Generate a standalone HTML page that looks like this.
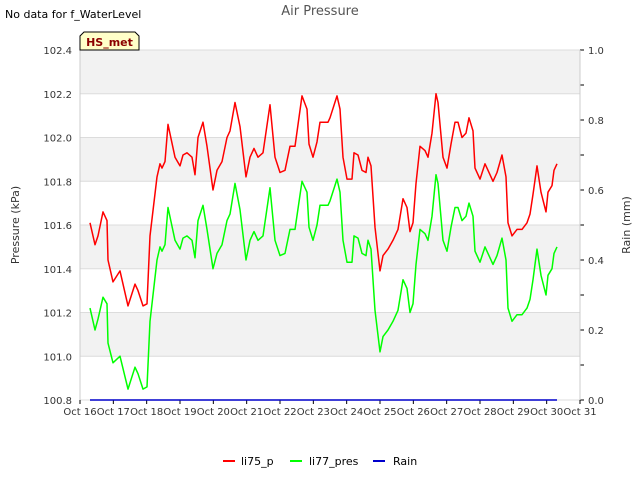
<!DOCTYPE html>
<html><head><meta charset="utf-8"><style>
body{margin:0;background:#fff;font-family:"DejaVu Sans","Liberation Sans",sans-serif;}
svg text{font-family:"DejaVu Sans","Liberation Sans",sans-serif;}
</style></head><body>
<svg id="chart" width="640" height="480" xmlns="http://www.w3.org/2000/svg">
<text x="5" y="18" font-size="11" fill="#000">No data for f_WaterLevel</text>
<text x="320" y="15" font-size="13" fill="#555" text-anchor="middle">Air Pressure</text>
<g id="grid"></g>
<g id="axes"></g>
<g id="series"></g>
<g>
<path d="M80,50 L80,36 L84,32 L135,32 L139,36 L139,50 Z" fill="#ffffc8" stroke="#000" stroke-width="1"/>
<text x="109.5" y="46" font-size="11" font-weight="bold" fill="#8b0000" text-anchor="middle">HS_met</text>
</g>
<text transform="translate(19,225) rotate(-90)" font-size="11" fill="#333" text-anchor="middle">Pressure (kPa)</text>
<text transform="translate(630,225) rotate(-90)" font-size="11" fill="#333" text-anchor="middle">Rain (mm)</text>
<g>
<g><line x1="223" y1="461" x2="235" y2="461" stroke="#ff0000" stroke-width="2"/><text x="241" y="465" font-size="11" fill="#000">li75_p</text></g>
<g><line x1="290" y1="461" x2="302" y2="461" stroke="#00ff00" stroke-width="2"/><text x="309" y="465" font-size="11" fill="#000">li77_pres</text></g>
<g><line x1="373" y1="461" x2="385" y2="461" stroke="#0000cc" stroke-width="2"/><text x="393" y="465" font-size="11" fill="#000">Rain</text></g>
</g>
</svg>
<script>
const days=[0.30,0.45,0.54,0.69,0.81,0.84,0.99,1.20,1.44,1.65,1.74,1.89,2.01,2.10,2.31,2.40,2.46,2.55,2.64,2.85,3.00,3.09,3.21,3.36,3.45,3.54,3.69,3.81,3.99,4.11,4.26,4.41,4.50,4.65,4.80,4.98,5.10,5.22,5.34,5.49,5.70,5.85,6.00,6.15,6.30,6.45,6.66,6.81,6.87,6.99,7.11,7.20,7.44,7.50,7.71,7.80,7.89,8.01,8.16,8.22,8.34,8.46,8.58,8.64,8.73,8.85,9.00,9.09,9.24,9.39,9.54,9.69,9.81,9.90,9.99,10.08,10.20,10.35,10.44,10.56,10.68,10.74,10.89,11.01,11.13,11.25,11.34,11.46,11.58,11.67,11.79,11.85,12.00,12.15,12.24,12.39,12.51,12.66,12.78,12.84,12.96,13.11,13.26,13.41,13.50,13.59,13.71,13.83,13.98,14.04,14.16,14.22,14.31];
const li75=[101.61,101.51,101.55,101.66,101.62,101.44,101.34,101.39,101.23,101.33,101.30,101.23,101.24,101.55,101.82,101.88,101.86,101.89,102.06,101.91,101.87,101.92,101.93,101.91,101.83,102.00,102.07,101.96,101.76,101.85,101.89,102.00,102.03,102.16,102.05,101.82,101.91,101.95,101.91,101.93,102.15,101.91,101.84,101.85,101.96,101.96,102.19,102.13,101.97,101.91,101.98,102.07,102.07,102.09,102.19,102.13,101.91,101.81,101.81,101.93,101.92,101.85,101.84,101.91,101.87,101.59,101.39,101.46,101.49,101.53,101.58,101.72,101.68,101.57,101.61,101.79,101.96,101.94,101.91,102.02,102.20,102.16,101.91,101.86,101.97,102.07,102.07,102.00,102.02,102.09,102.03,101.86,101.81,101.88,101.85,101.80,101.84,101.92,101.82,101.61,101.55,101.58,101.58,101.61,101.65,101.74,101.87,101.75,101.66,101.75,101.78,101.85,101.88];
const li77=[101.22,101.12,101.17,101.27,101.24,101.06,100.97,101.00,100.85,100.95,100.92,100.85,100.86,101.16,101.44,101.50,101.48,101.51,101.68,101.53,101.49,101.54,101.55,101.53,101.45,101.62,101.69,101.58,101.40,101.47,101.51,101.62,101.65,101.79,101.67,101.44,101.53,101.57,101.53,101.55,101.77,101.53,101.46,101.47,101.58,101.58,101.80,101.75,101.59,101.53,101.60,101.69,101.69,101.71,101.81,101.75,101.53,101.43,101.43,101.55,101.54,101.47,101.46,101.53,101.49,101.21,101.02,101.09,101.12,101.16,101.21,101.35,101.31,101.20,101.24,101.42,101.58,101.56,101.53,101.64,101.83,101.79,101.53,101.48,101.59,101.68,101.68,101.62,101.64,101.70,101.64,101.48,101.43,101.50,101.47,101.42,101.46,101.54,101.44,101.22,101.16,101.19,101.19,101.22,101.26,101.35,101.49,101.37,101.28,101.37,101.40,101.47,101.50];
const rainDays=[0.30,14.31];
const rain=[0,0];
const yTicks=[100.8,101.0,101.2,101.4,101.6,101.8,102.0,102.2,102.4];
const y2Ticks=[0.0,0.2,0.4,0.6,0.8,1.0];
const xLabels=["Oct 16","Oct 17","Oct 18","Oct 19","Oct 20","Oct 21","Oct 22","Oct 23","Oct 24","Oct 25","Oct 26","Oct 27","Oct 28","Oct 29","Oct 30","Oct 31"];
const L=80,R=580,T=50,B=400;
const xs=d=>L+d*(R-L)/15;
const ys=v=>B-(v-100.8)*(B-T)/1.6;
const y2s=v=>B-v*(B-T)/1.0;
const NS="http://www.w3.org/2000/svg";
function mk(tag,attrs,parent){const e=document.createElementNS(NS,tag);for(const k in attrs)e.setAttribute(k,attrs[k]);parent.appendChild(e);return e;}
const grid=document.getElementById('grid'),axes=document.getElementById('axes'),series=document.getElementById('series');
const bg=mk('rect',{x:L,y:T,width:R-L,height:B-T,fill:'#fff'},grid);


for(let i=0;i<yTicks.length-1;i++){
  if(i%2===1){const b=mk('rect',{x:L,y:ys(yTicks[i+1]),width:R-L,height:ys(yTicks[i])-ys(yTicks[i+1]),fill:'#f2f2f2'},grid);
  
  }
}
yTicks.forEach(v=>{
  const g=mk('line',{x1:L,x2:R,y1:ys(v),y2:ys(v),stroke:'#dcdcdc','stroke-width':1},grid);
  
  
  const t=mk('text',{x:L-8,y:ys(v)+4,'font-size':10,fill:'#333','text-anchor':'end'},axes);
  t.textContent=v.toFixed(1);
  
  
});
for(let i=0;i<=10;i++){
  const v=i/10;
  mk('line',{x1:R,x2:R+4,y1:y2s(v),y2:y2s(v),stroke:'#000','stroke-width':1},axes);
}
y2Ticks.forEach(v=>{
  const t=mk('text',{x:R+8,y:y2s(v)+4,'font-size':10,fill:'#333'},axes);
  t.textContent=v.toFixed(1);
  
  
});
xLabels.forEach((s,i)=>{
  mk('line',{x1:xs(i),x2:xs(i),y1:B,y2:B+4,stroke:'#000'},axes);
  const t=mk('text',{x:xs(i),y:B+15,'font-size':10,fill:'#333','text-anchor':'middle'},axes);
  t.textContent=s;
  
  
});
mk('line',{x1:L,x2:L,y1:T,y2:B,stroke:'#ccc'},axes);
mk('line',{x1:R,x2:R,y1:T,y2:B,stroke:'#ccc'},axes);
function line(xd,yd,sc,color,name){
  const p=mk('polyline',{points:xd.map((d,i)=>xs(d).toFixed(1)+','+sc(yd[i]).toFixed(1)).join(' '),fill:'none',stroke:color,'stroke-width':1.5,'stroke-linejoin':'round'},series);
  
  
}
line(days,li75,ys,'#ff0000','li75-p-line');
line(days,li77,ys,'#00ff00','li77-pres-line');
line(rainDays,rain,y2s,'#0000cc','rain-line');
</script>
</body></html>
